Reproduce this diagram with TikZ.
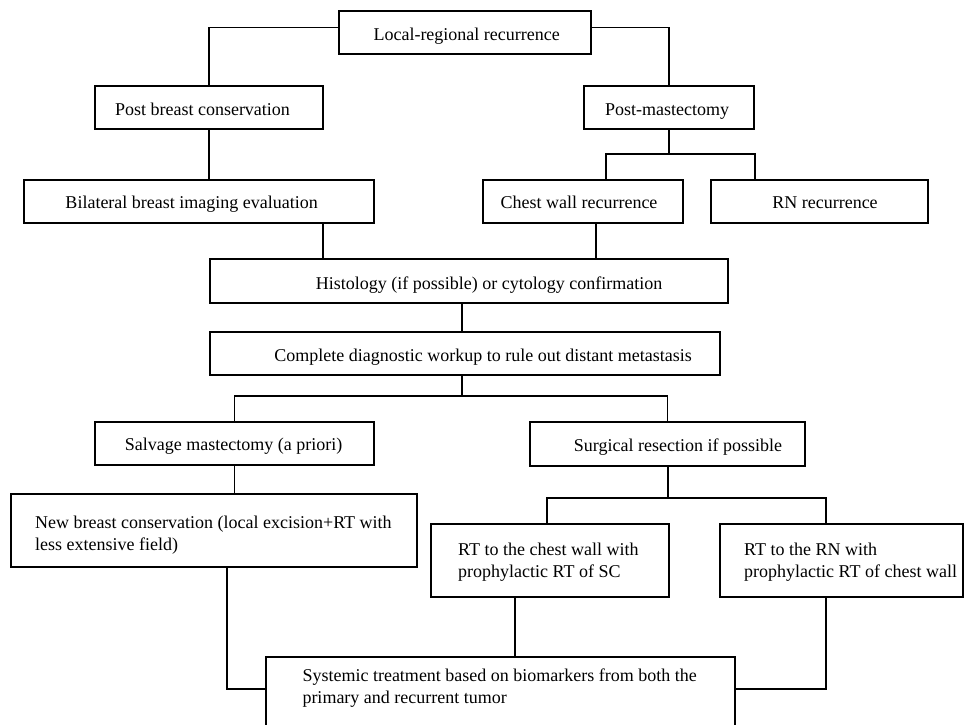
\documentclass[tikz,border=0pt]{standalone}
\usepackage{fontspec}
\setmainfont{Liberation Serif}
\begin{document}
\begin{tikzpicture}[x=1pt,y=-1pt,
  box/.style={draw,line width=1.2pt,inner sep=0pt,outer sep=0pt,rectangle},
  txt/.style={inner sep=0pt,anchor=base,font=\fontsize{18}{22}\selectfont},
  ltxt/.style={inner sep=0pt,anchor=base west,font=\fontsize{18}{22}\selectfont},
  conn/.style={line width=1.2pt}]
\clip (0,0) rectangle (965,724);
\fill[white] (0,0) rectangle (965,724);
% boxes
\node[box,minimum width=252pt,minimum height=43pt] (lr)   at (465,32.5) {};
\node[box,minimum width=228pt,minimum height=43pt] (pbc)  at (209,107.5) {};
\node[box,minimum width=170pt,minimum height=43pt] (pm)   at (669,107.5) {};
\node[box,minimum width=350pt,minimum height=43pt] (bil)  at (199,201.5) {};
\node[box,minimum width=200pt,minimum height=43pt] (cw)   at (583,201.5) {};
\node[box,minimum width=217pt,minimum height=43pt] (rn)   at (819.5,201.5) {};
\node[box,minimum width=518pt,minimum height=44pt] (hist) at (469,281) {};
\node[box,minimum width=510pt,minimum height=43pt] (comp) at (465,353.5) {};
\node[box,minimum width=279pt,minimum height=43pt] (sal)  at (234.5,443.5) {};
\node[box,minimum width=275pt,minimum height=44pt] (surg) at (667.5,444) {};
\node[box,minimum width=406pt,minimum height=73pt] (nb)   at (214,530.5) {};
\node[box,minimum width=238pt,minimum height=73pt] (rtc)  at (550,560.5) {};
\node[box,minimum width=243pt,minimum height=73pt] (rtn)  at (841.5,560.5) {};
\node[box,minimum width=469pt,minimum height=73pt] (sys)  at (500.5,693.5) {};
% texts
\node[txt] (tlr)   at (466.7,40) {Local-regional recurrence};
\node[txt] (tpbc)  at (202.5,115) {Post breast conservation};
\node[txt] (tpm)   at (667,115) {Post-mastectomy};
\node[txt] (tbil)  at (191.7,208.5) {Bilateral breast imaging evaluation};
\node[txt] (tcw)   at (579,208.5) {Chest wall recurrence};
\node[txt] (trn)   at (825,208.5) {RN recurrence};
\node[txt] (thist) at (489,289) {Histology (if possible) or cytology confirmation};
\node[txt] (tcomp) at (483,361) {Complete diagnostic workup to rule out distant metastasis};
\node[txt] (tsal)  at (233.7,450.5) {Salvage mastectomy (a priori)};
\node[txt] (tsurg) at (678,451) {Surgical resection if possible};
\node[ltxt] (tnb)  at (35,528.5) {\begin{tabular}[t]{@{}l@{}}New breast conservation (local excision+RT with\\less extensive field)\end{tabular}};
\node[ltxt] (trtc) at (458,555.5) {\begin{tabular}[t]{@{}l@{}}RT to the chest wall with\\prophylactic RT of SC\end{tabular}};
\node[ltxt] (trtn) at (744,555.5) {\begin{tabular}[t]{@{}l@{}}RT to the RN with\\prophylactic RT of chest wall\end{tabular}};
\node[ltxt] (tsys) at (302.3,681) {\begin{tabular}[t]{@{}l@{}}Systemic treatment based on biomarkers from both the\\primary and recurrent tumor\end{tabular}};
% connectors
\draw[conn] ([yshift=5pt]lr.west) -| (pbc.north);
\draw[conn] ([yshift=5pt]lr.east) -| (pm.north);
\draw[conn] (pbc.south) -- (pbc.south |- bil.north);
\draw[conn] (pm.south) -- (pm.south |- 0,154);
\draw[conn] (cw.north -| 606,0) -- (606,154) -- (755,154) -- (rn.north -| 755,0);
\draw[conn] (bil.south -| 323,0) -- (hist.north -| 323,0);
\draw[conn] (cw.south -| 596,0) -- (hist.north -| 596,0);
\draw[conn] (hist.south -| 462,0) -- (comp.north -| 462,0);
\draw[conn] (comp.south -| 462,0) -- (462,396);
\draw[conn] (sal.north) |- (667.5,396) -- (surg.north);
\draw[conn] (sal.south) -- (sal.south |- nb.north);
\draw[conn] (nb.south -| 227,0) |- (sys.west |- 0,689);
\draw[conn] (surg.south -| 668,0) -- (668,498);
\draw[conn] (rtc.north -| 547,0) |- (826,498) -- (rtn.north -| 826,0);
\draw[conn] (rtc.south -| 515,0) -- (sys.north -| 515,0);
\draw[conn] (rtn.south -| 826,0) |- (sys.east |- 0,689);
\end{tikzpicture}
\end{document}
